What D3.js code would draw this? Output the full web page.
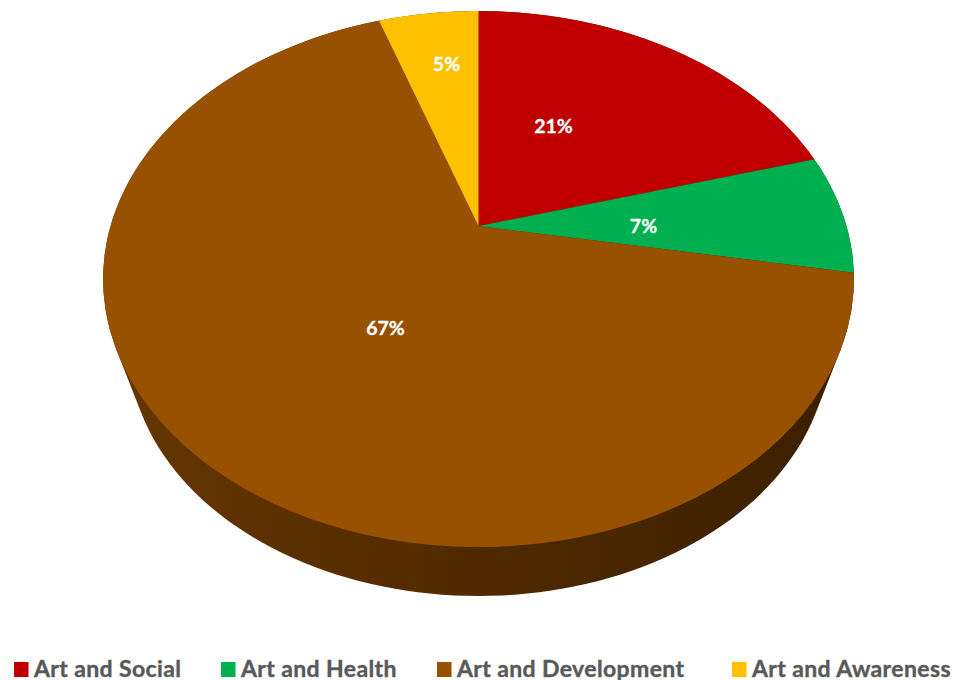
<!DOCTYPE html>
<html>
<head>
<meta charset="utf-8">
<script src="https://cdn.jsdelivr.net/npm/d3@7"></script>
<style>
    html, body { margin: 0; padding: 0; background: #fff; }
    svg { display: block; }
    text { font-family: Lato, "Open Sans", sans-serif; font-weight: 700; }
</style>
</head>
<body>
<div id="chart"></div>
<script>
const categories = ['Art and Social', 'Art and Health', 'Art and Development', 'Art and Awareness'];
const shares = [20.6, 7.2, 67, 5.2];
const sliceColors = ['#C00000', '#00B050', '#985100', '#FFC000'];

const width = 954;
const height = 680;

// the tilted disc: apex of the slices, radius, height and perspective strength
const apex = { x: 478.5, y: 226 };
const discR = 368;
const discH = 257.5;
const tilt = 0.198;

// outline of the underside seen below the top face
const under = { cx: 478.5, cy: 346, rx: 350, ry: 250 };

// label positions relative to the apex, as the original places them by hand
const labelOffsets = [[75, -101], [165, -1], [-93, 101], [-32, -163]];
const legendSwatchX = [14, 221, 437, 732];

const color = d3.scaleOrdinal().domain(categories).range(sliceColors);

const project = (angle, t = 1) => {
    const w = 1 + tilt * t * Math.cos(angle);
    return [
        apex.x + discR * t * Math.sin(angle) / w,
        apex.y - discH * t * Math.cos(angle) / w
    ];
};

const sampleArc = (a0, a1) => d3.range(0, 1.0001, 1 / 90).map(f => project(a0 + (a1 - a0) * f));

const svg = d3.select('#chart')
    .append('svg')
    .attr('width', width)
    .attr('height', height)
    .attr('viewBox', [0, 0, width, height]);

const gradient = svg.append('defs')
    .append('linearGradient')
    .attr('id', 'side-shade')
    .attr('x1', 0).attr('x2', 1).attr('y1', 0).attr('y2', 0);
gradient.append('stop').attr('offset', '0%').attr('stop-color', '#663600');
gradient.append('stop').attr('offset', '45%').attr('stop-color', '#522b00');
gradient.append('stop').attr('offset', '100%').attr('stop-color', '#3a1f00');

// side wall: hull of the top rim and the underside
const topRim = sampleArc(0, 2 * Math.PI);
const underRim = d3.range(0, 2 * Math.PI, Math.PI / 90)
    .map(a => [under.cx + under.rx * Math.sin(a), under.cy - under.ry * Math.cos(a)]);
const line = d3.line().curve(d3.curveLinearClosed);

svg.append('path')
    .attr('d', line(d3.polygonHull(topRim.concat(underRim))))
    .attr('fill', 'url(#side-shade)');

const pie = d3.pie().sort(null).value(d => d.value);
const slices = pie(categories.map((name, i) => ({ name, value: shares[i] })));

svg.append('g')
    .selectAll('path')
    .data(slices)
    .join('path')
    .attr('d', d => line([[apex.x, apex.y], ...sampleArc(d.startAngle, d.endAngle)]))
    .attr('fill', d => color(d.data.name));

svg.append('g')
    .selectAll('text')
    .data(slices)
    .join('text')
    .attr('x', (d, i) => apex.x + labelOffsets[i][0])
    .attr('y', (d, i) => apex.y + labelOffsets[i][1])
    .attr('text-anchor', 'middle')
    .attr('dominant-baseline', 'central')
    .attr('font-size', 19.5)
    .attr('fill', '#fff')
    .attr('stroke', '#fff')
    .attr('stroke-width', 0.3)
    .text(d => `${Math.round(d.data.value)}%`);

const legend = svg.append('g')
    .selectAll('g')
    .data(categories)
    .join('g')
    .attr('transform', (d, i) => `translate(${legendSwatchX[i]},662)`);

legend.append('rect')
    .attr('width', 14.5)
    .attr('height', 15)
    .attr('fill', d => color(d));

legend.append('text')
    .attr('x', 20)
    .attr('y', 14.5)
    .attr('font-size', 23)
    .attr('letter-spacing', 0.38)
    .attr('fill', '#595959')
    .attr('stroke', '#595959')
    .attr('stroke-width', 0.4)
    .text(d => d);
</script>
</body>
</html>
